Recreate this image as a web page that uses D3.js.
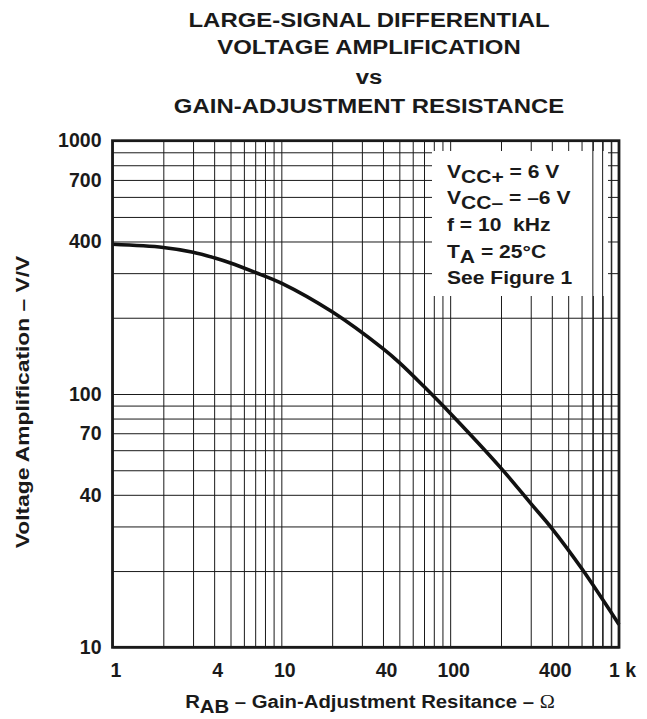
<!DOCTYPE html>
<html>
<head>
<meta charset="utf-8">
<script src="https://cdn.jsdelivr.net/npm/d3@7"></script>
<style>
  html, body { margin: 0; padding: 0; background: #fff; }
  svg { display: block; font-family: "Liberation Sans", Arial, sans-serif; font-weight: bold; }
</style>
</head>
<body>
<div id="chart"></div>
<script>
// Curve (R_AB in ohms, gain in V/V).
const resistance = [1, 2, 3, 4, 5, 7, 10, 20, 40, 50, 70, 100, 200, 300, 400, 600, 1000];
const gain = [390, 379, 363, 345, 329, 302, 274, 211, 151, 133, 107, 84, 51, 37, 29.5, 20.5, 12.3];

const xTickValues = [1, 4, 10, 40, 100, 400, 1000];
const xTickLabels = ["1", "4", "10", "40", "100", "400", "1 k"];
const yTickValues = [10, 40, 70, 100, 400, 700, 1000];

const titleLines = ["LARGE-SIGNAL DIFFERENTIAL", "VOLTAGE AMPLIFICATION", "vs", "GAIN-ADJUSTMENT RESISTANCE"];

const width = 647;
const height = 719;
const margin = {top: 140.7, right: 28, bottom: 71.7, left: 112.5};

const svg = d3.select("#chart")
    .append("svg")
    .attr("width", width)
    .attr("height", height);

const x = d3.scaleLog().domain([1, 1000]).range([margin.left, width - margin.right]);
const y = d3.scaleLog().domain([10, 1000]).range([height - margin.bottom, margin.top]);

// every 1..9 step of each decade
const decadeSteps = (lo, hi) => {
    const out = [];
    for (let d = lo; d < hi; d *= 10) {
        for (let k = 1; k <= 9; k++) out.push(d * k);
    }
    out.push(hi);
    return out;
};
const xGrid = decadeSteps(1, 1000);
const yGrid = decadeSteps(10, 1000);

const plotW = x.range()[1] - x.range()[0];
const plotH = y.range()[0] - y.range()[1];

// Grid lines.
const gridX = svg.append("g")
    .attr("transform", `translate(0,${margin.top})`)
    .call(d3.axisTop(x).tickValues(xGrid).tickSize(-plotH).tickFormat(""));
const gridY = svg.append("g")
    .attr("transform", `translate(${margin.left},0)`)
    .call(d3.axisLeft(y).tickValues(yGrid).tickSize(-plotW).tickFormat(""));
[gridX, gridY].forEach(g => {
    g.select(".domain").remove();
    g.selectAll("line").attr("stroke", "#1a1a1a").attr("stroke-width", 1);
});

// White panel behind the conditions text.
const box = {x0: 432, x1: 608, y0: 151, y1: 296};
svg.append("rect")
    .attr("x", box.x0)
    .attr("y", box.y0)
    .attr("width", box.x1 - box.x0)
    .attr("height", box.y1 - box.y0)
    .attr("fill", "#fff");

// Vertical lines 700..900 run through the panel.
svg.append("g")
    .selectAll("line")
    .data(xGrid.filter(v => v > 600 && v < 1000))
    .enter()
    .append("line")
    .attr("x1", d => x(d)).attr("x2", d => x(d))
    .attr("y1", margin.top).attr("y2", height - margin.bottom)
    .attr("stroke", "#1a1a1a")
    .attr("stroke-width", 1);

// Curve.
const line = d3.line()
    .x(d => x(d[0]))
    .y(d => y(d[1]))
    .curve(d3.curveCatmullRom.alpha(0.5));

svg.append("path")
    .datum(resistance.map((r, i) => [r, gain[i]]))
    .attr("d", line)
    .attr("fill", "none")
    .attr("stroke", "#111")
    .attr("stroke-width", 3.6)
    .attr("stroke-linejoin", "round");

// Frame.
svg.append("rect")
    .attr("x", margin.left)
    .attr("y", margin.top)
    .attr("width", plotW)
    .attr("height", plotH)
    .attr("fill", "none")
    .attr("stroke", "#1a1a1a")
    .attr("stroke-width", 2.8);

// Tick labels.
const yAxis = svg.append("g")
    .attr("transform", `translate(${margin.left - 8},0)`)
    .call(d3.axisLeft(y).tickValues(yTickValues).tickSize(0).tickFormat(d3.format("d")));
const xAxis = svg.append("g")
    .attr("transform", `translate(0,${height - margin.bottom + 13})`)
    .call(d3.axisBottom(x).tickValues(xTickValues).tickSize(0)
        .tickFormat((d, i) => xTickLabels[i]));
[xAxis, yAxis].forEach(g => {
    g.select(".domain").remove();
    g.selectAll("text")
        .attr("font-family", "Liberation Sans, Arial, sans-serif")
        .attr("font-weight", "bold")
        .attr("font-size", "19.5px")
        .attr("fill", "#1a1a1a");
});
xAxis.selectAll("text").attr("dx", "3px");

// Title (the original face runs wider than Arial, hence the x stretch).
svg.append("g")
    .selectAll("text")
    .data(titleLines)
    .enter()
    .append("text")
    .attr("transform", (d, i) => `translate(369,${[27, 54, 84, 113][i]}) scale(1.14,1)`)
    .attr("text-anchor", "middle")
    .attr("font-size", "21px")
    .attr("fill", "#1a1a1a")
    .text(d => d);

// Axis titles.
svg.append("text")
    .attr("transform", "translate(29,402) rotate(-90) scale(1.2,1)")
    .attr("text-anchor", "middle")
    .attr("font-size", "19px")
    .attr("fill", "#1a1a1a")
    .text("Voltage Amplification – V/V");

const xt = svg.append("text")
    .attr("transform", "translate(370,708) scale(1.13,1)")
    .attr("text-anchor", "middle")
    .attr("font-size", "18px")
    .attr("fill", "#1a1a1a");
xt.append("tspan").text("R");
xt.append("tspan").attr("dy", 5).text("AB");
xt.append("tspan").attr("dy", -5).text(" – Gain-Adjustment Resitance – ");
xt.append("tspan")
    .attr("font-family", "Liberation Serif, Times New Roman, serif")
    .attr("font-weight", "normal")
    .text("Ω");

// Test conditions.
const cond = svg.append("g")
    .attr("font-size", "18px")
    .attr("fill", "#1a1a1a");
const condLine = yPos => cond.append("text")
    .attr("transform", `translate(447,${yPos}) scale(1.17,1)`);
const c1 = condLine(178);
c1.append("tspan").text("V");
c1.append("tspan").attr("dy", 5).text("CC+");
c1.append("tspan").attr("dy", -5).text(" = 6 V");
const c2 = condLine(204);
c2.append("tspan").text("V");
c2.append("tspan").attr("dy", 5).text("CC–");
c2.append("tspan").attr("dy", -5).text(" = –6 V");
condLine(231).text("f = 10\u00A0 kHz");
const c4 = condLine(258);
c4.append("tspan").text("T");
c4.append("tspan").attr("dy", 5).text("A");
c4.append("tspan").attr("dy", -5).text(" = 25°C");
condLine(284).text("See Figure 1");
</script>
</body>
</html>
